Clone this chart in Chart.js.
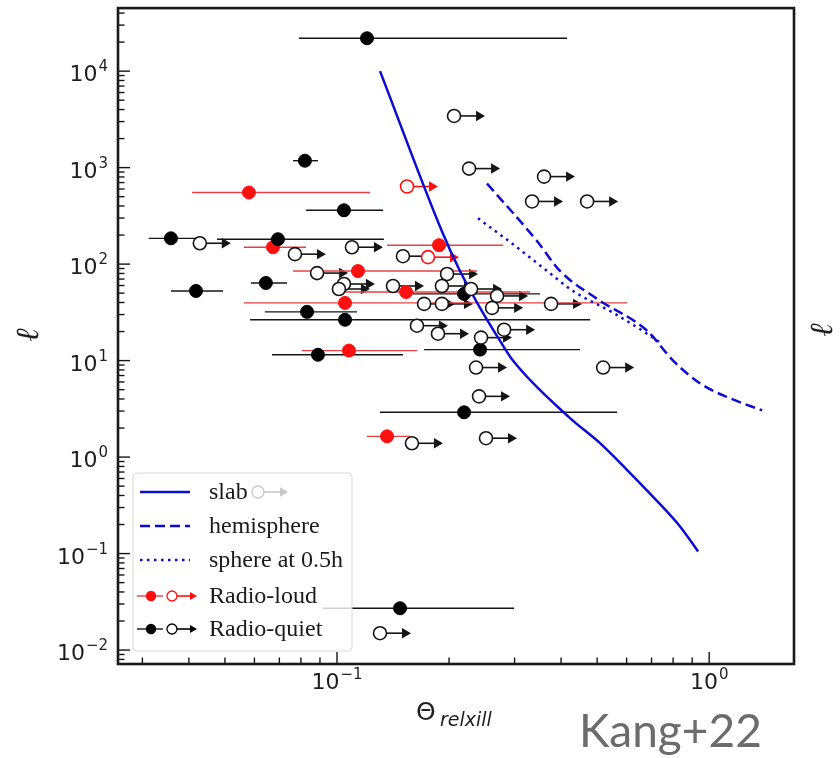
<!DOCTYPE html>
<html>
<head>
<meta charset="utf-8">
<script src="https://cdn.jsdelivr.net/npm/chart.js@4/dist/chart.umd.min.js"></script>
<style>
  html, body { margin: 0; padding: 0; background: #fff; }
  #wrap { width: 840px; height: 758px; position: relative; }
</style>
</head>
<body>
<div id="wrap"><canvas id="c" width="840" height="758"></canvas></div>
<script>
// ---- Radio-quiet sources with a measured coronal temperature ----
const rqTheta   = [0.1204, 0.0820, 0.1044, 0.0358, 0.0694, 0.0418, 0.0644, 0.0831, 0.1051, 0.0889, 0.2423, 0.2195, 0.1477, 0.2195];
const rqEll     = [21900, 1180, 361, 185, 181, 52.7, 63.7, 32.0, 26.5, 11.5, 13.0, 2.91, 0.0271, 49.1];
const rqThetaLo = [0.0790, 0.0762, 0.0826, 0.0312, 0.0476, 0.0358, 0.0587, 0.0640, 0.0584, 0.0669, 0.1714, 0.1305, 0.0917, 0.1477];
const rqThetaHi = [0.415, 0.0889, 0.133, 0.0428, 0.1337, 0.0494, 0.0734, 0.1132, 0.479, 0.1504, 0.450, 0.566, 0.299, 0.351];

// ---- Radio-loud sources with a measured coronal temperature ----
const rlTheta   = [0.0580, 0.0673, 0.188, 0.1139, 0.1533, 0.1051, 0.1077, 0.1363];
const rlEll     = [552, 149.6, 157, 84.7, 51.4, 39.6, 12.7, 1.64];
const rlThetaLo = [0.0408, 0.0562, 0.1363, 0.0762, 0.1051, 0.0562, 0.0805, 0.1204];
const rlThetaHi = [0.1227, 0.0826, 0.2794, 0.2378, 0.330, 0.602, 0.164, 0.157];

// ---- Lower limits on the temperature ----
const rlLimTheta = [0.1542, 0.1756];
const rlLimEll   = [637, 118];
const rqLimTheta = [0.2063, 0.2264, 0.360, 0.3343, 0.470, 0.0428, 0.0771, 0.1097, 0.1504, 0.0884,
                    0.1044, 0.1012, 0.1414, 0.1976, 0.1914, 0.2292, 0.2692, 0.1714, 0.1914, 0.2611,
                    0.376, 0.164, 0.1868, 0.2438, 0.2812, 0.2364, 0.519, 0.2408, 0.2514, 0.159, 0.1305];
const rqLimEll   = [3433, 977, 807, 446, 446, 164.5, 126.8, 149.6, 120.8, 80.7,
                    62.2, 55.2, 59.3, 78.9, 59.3, 55.2, 46.8, 38.7, 38.7, 35.2,
                    38.7, 23.0, 19.0, 17.3, 20.9, 8.47, 8.47, 4.26, 1.57, 1.39, 0.01496];

// ---- Pair-line curves for three coronal geometries ----
const slabTheta = [0.1305, 0.1914, 0.214, 0.2423, 0.274, 0.297, 0.4206, 0.509, 0.602, 0.707, 0.836, 0.934];
const slabEll   = [10000, 218.8, 84.7, 35.2, 16.1, 10.0, 2.58, 1.394, 0.734, 0.387, 0.19, 0.105];
const hemiTheta = [0.253, 0.345, 0.3977, 0.5, 0.681, 0.8, 0.946, 1.139, 1.388];
const hemiEll   = [684, 172.6, 84.7, 43.6, 20.4, 10.0, 5.79, 4.06, 3.05];
const sphTheta  = [0.2393, 0.297, 0.367, 0.4305, 0.552, 0.681, 0.738];
const sphEll    = [298, 160.6, 84.7, 52.7, 31.3, 19.0, 15.4];

// ---- Axis decades carrying a tick label ----
const xTickExps = [-1, 0];
const yTickExps = [-2, -1, 0, 1, 2, 3, 4];

const legendLabels = ['slab', 'hemisphere', 'sphere at 0.5h', 'Radio-loud', 'Radio-quiet'];

const BLUE = '#0c0cd0';
const RED = '#ff1010';
const RED_BAR = '#e84040';
const INK = '#151515';

const pts = (xs, ys, lo, hi) => xs.map((x, i) => lo ? { x, y: ys[i], xMin: lo[i], xMax: hi[i] } : { x, y: ys[i] });

const curve = { showLine: true, pointRadius: 0, borderColor: BLUE, borderWidth: 2.5, cubicInterpolationMode: 'monotone' };

const datasets = [
  { label: 'rqLim', data: pts(rqLimTheta, rqLimEll), pointRadius: 6.5, pointBackgroundColor: '#fff',
    pointBorderColor: INK, pointBorderWidth: 1.6, showLine: false, arrow: INK },
  { label: 'rlLim', data: pts(rlLimTheta, rlLimEll), pointRadius: 6.5, pointBackgroundColor: '#fff',
    pointBorderColor: RED, pointBorderWidth: 1.6, showLine: false, arrow: RED },
  { label: 'rq', data: pts(rqTheta, rqEll, rqThetaLo, rqThetaHi), pointRadius: 6.5, pointBackgroundColor: '#000',
    pointBorderColor: '#000', pointBorderWidth: 1, showLine: false, barColor: INK },
  { label: 'rl', data: pts(rlTheta, rlEll, rlThetaLo, rlThetaHi), pointRadius: 6.5, pointBackgroundColor: RED,
    pointBorderColor: RED, pointBorderWidth: 1, showLine: false, barColor: RED_BAR },
  Object.assign({ label: 'slab', data: pts(slabTheta, slabEll) }, curve),
  Object.assign({ label: 'hemisphere', data: pts(hemiTheta, hemiEll), borderDash: [10, 5] }, curve),
  Object.assign({ label: 'sphere', data: pts(sphTheta, sphEll), borderDash: [2.5, 4.5] }, curve)
];

function arrowRight(ctx, x, y, len, head, color) {
  ctx.save();
  ctx.strokeStyle = color; ctx.fillStyle = color; ctx.lineWidth = 1.6;
  ctx.beginPath(); ctx.moveTo(x, y); ctx.lineTo(x + len - head + 1, y); ctx.stroke();
  ctx.beginPath();
  ctx.moveTo(x + len, y);
  ctx.lineTo(x + len - head, y - head * 0.58);
  ctx.lineTo(x + len - head, y + head * 0.58);
  ctx.closePath(); ctx.fill();
  ctx.restore();
}

// error bars and lower-limit arrows sit underneath the markers
const barsPlugin = {
  id: 'bars',
  beforeDatasetsDraw(chart) {
    const ctx = chart.ctx, xs = chart.scales.x, ys = chart.scales.y, a = chart.chartArea;
    ctx.save();
    ctx.beginPath(); ctx.rect(a.left, a.top, a.right - a.left, a.bottom - a.top); ctx.clip();
    chart.data.datasets.forEach(ds => {
      if (ds.barColor) {
        ctx.strokeStyle = ds.barColor; ctx.lineWidth = 1.4;
        ds.data.forEach(p => {
          const py = ys.getPixelForValue(p.y);
          ctx.beginPath();
          ctx.moveTo(xs.getPixelForValue(p.xMin), py);
          ctx.lineTo(xs.getPixelForValue(p.xMax), py);
          ctx.stroke();
        });
      }
      if (ds.arrow) {
        ds.data.forEach(p => {
          arrowRight(ctx, xs.getPixelForValue(p.x), ys.getPixelForValue(p.y), 31, 9, ds.arrow);
        });
      }
    });
    ctx.restore();
  }
};

function drawPow(ctx, exp, x, y, align) {
  const base = '10';
  const sup = exp < 0 ? '\u2212' + (-exp) : String(exp);
  ctx.font = '22px "DejaVu Sans"';
  const wb = ctx.measureText(base).width;
  ctx.font = '15px "DejaVu Sans"';
  const ws = ctx.measureText(sup).width;
  const total = wb + 1 + ws;
  const x0 = align === 'right' ? x - total : x - total / 2;
  ctx.textAlign = 'left'; ctx.textBaseline = 'alphabetic';
  ctx.font = '22px "DejaVu Sans"'; ctx.fillText(base, x0, y);
  ctx.font = '15px "DejaVu Sans"'; ctx.fillText(sup, x0 + wb + 1, y - 10);
}

// frame, inward ticks, labels and the legend
const framePlugin = {
  id: 'frame',
  afterDraw(chart) {
    const ctx = chart.ctx, xs = chart.scales.x, ys = chart.scales.y, a = chart.chartArea;
    ctx.save();

    // ticks
    ctx.strokeStyle = INK; ctx.lineWidth = 1.4;
    for (let e = -3; e <= 5; e++) {
      for (let m = 1; m <= 9; m++) {
        const v = m * Math.pow(10, e);
        const len = m === 1 ? 12 : 6.5;
        if (v >= xs.min && v <= xs.max) {
          const px = xs.getPixelForValue(v);
          ctx.beginPath(); ctx.moveTo(px, a.bottom); ctx.lineTo(px, a.bottom - len); ctx.stroke();
        }
        if (v >= ys.min && v <= ys.max) {
          const py = ys.getPixelForValue(v);
          ctx.beginPath(); ctx.moveTo(a.left, py); ctx.lineTo(a.left + len, py); ctx.stroke();
        }
      }
    }

    // frame
    ctx.strokeStyle = '#1a1a1a'; ctx.lineWidth = 2.6;
    ctx.strokeRect(a.left, a.top, a.right - a.left, a.bottom - a.top);

    // tick labels
    ctx.fillStyle = '#1e1e1e';
    yTickExps.forEach(e => drawPow(ctx, e, 108, ys.getPixelForValue(Math.pow(10, e)) + 10, 'right'));
    xTickExps.forEach(e => drawPow(ctx, e, xs.getPixelForValue(Math.pow(10, e)), a.bottom + 25, 'center'));

    // axis titles
    ctx.textAlign = 'left'; ctx.textBaseline = 'alphabetic';
    ctx.font = '25px "DejaVu Sans"';
    ctx.fillText('\u0398', 416, 720);
    ctx.font = 'italic 19px "DejaVu Sans"';
    ctx.fillText('relxill', 440, 726);

    ctx.font = 'italic 32px "DejaVu Serif"';
    ctx.textAlign = 'center'; ctx.textBaseline = 'middle';
    [[30, 335], [824, 330]].forEach(([x, y]) => {
      ctx.save(); ctx.translate(x, y); ctx.rotate(-Math.PI / 2); ctx.fillText('\u2113', 0, 0); ctx.restore();
    });

    ctx.textAlign = 'left'; ctx.textBaseline = 'alphabetic';
    ctx.fillStyle = '#6c6c6c';
    ctx.font = '46px Lato';
    ctx.fillText('Kang+22', 579, 747);

    // legend
    const lx = 133, ly = 473, lw = 219, lh = 178;
    ctx.fillStyle = 'rgba(255,255,255,0.8)';
    ctx.strokeStyle = '#d8d8d8'; ctx.lineWidth = 1;
    ctx.beginPath();
    if (ctx.roundRect) ctx.roundRect(lx, ly, lw, lh, 4); else ctx.rect(lx, ly, lw, lh);
    ctx.fill(); ctx.stroke();

    const rows = [492, 526, 560, 596, 629];
    ctx.lineWidth = 2.5; ctx.strokeStyle = BLUE;
    [[], [10, 5], [2.5, 4.5]].forEach((dash, i) => {
      ctx.setLineDash(dash);
      ctx.beginPath(); ctx.moveTo(140, rows[i]); ctx.lineTo(190, rows[i]); ctx.stroke();
    });
    ctx.setLineDash([]);

    const glyph = (y, col, barCol) => {
      ctx.strokeStyle = barCol; ctx.lineWidth = 1.4;
      ctx.beginPath(); ctx.moveTo(137, y); ctx.lineTo(163, y); ctx.stroke();
      arrowRight(ctx, 172, y, 25, 7, col);
      ctx.fillStyle = col;
      ctx.beginPath(); ctx.arc(151, y, 5.2, 0, Math.PI * 2); ctx.fill();
      ctx.fillStyle = '#fff'; ctx.strokeStyle = col; ctx.lineWidth = 1.3;
      ctx.beginPath(); ctx.arc(172, y, 5, 0, Math.PI * 2); ctx.fill(); ctx.stroke();
    };
    glyph(rows[3], RED, RED_BAR);
    glyph(rows[4], '#000', INK);

    ctx.fillStyle = '#1a1a1a';
    ctx.font = '24px "Liberation Serif"';
    ctx.textBaseline = 'middle';
    legendLabels.forEach((t, i) => ctx.fillText(t, 209, rows[i] + 1));

    // faint limit marker after the slab label
    arrowRight(ctx, 258, rows[0], 30, 8, '#c8c8c8');
    ctx.fillStyle = '#fff'; ctx.strokeStyle = '#c8c8c8'; ctx.lineWidth = 1.3;
    ctx.beginPath(); ctx.arc(258, rows[0], 6, 0, Math.PI * 2); ctx.fill(); ctx.stroke();

    ctx.restore();
  }
};

new Chart(document.getElementById('c'), {
  type: 'scatter',
  data: { datasets },
  options: {
    responsive: false,
    animation: false,
    devicePixelRatio: 1,
    events: [],
    layout: { padding: { left: 118, top: 6, right: 46, bottom: 94 } },
    plugins: { legend: { display: false }, tooltip: { enabled: false } },
    scales: {
      x: { type: 'logarithmic', min: 0.0258, max: 1.69, display: false },
      y: { type: 'logarithmic', min: 0.00717, max: 45000, display: false }
    }
  },
  plugins: [barsPlugin, framePlugin]
});
</script>
</body>
</html>
